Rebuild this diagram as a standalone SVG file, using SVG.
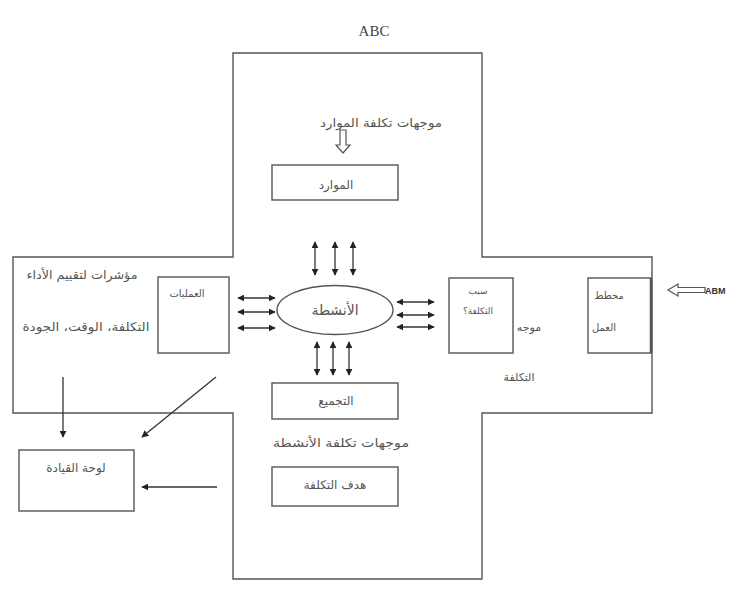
<svg xmlns="http://www.w3.org/2000/svg" width="731" height="590" viewBox="0 0 731 590">
<style>
.ln{fill:none;stroke:#555;stroke-width:1.4}
.bx{fill:#fff;stroke:#555;stroke-width:1.4}
.ar{fill:none;stroke:#333;stroke-width:1.3}
.t{font-family:"DejaVu Sans",sans-serif;fill:#555;text-anchor:middle}
.hol{fill:#fff;stroke:#555;stroke-width:1.2}
</style>
<defs>
<marker id="ah" viewBox="0 0 10 10" refX="9" refY="5" markerWidth="7" markerHeight="7" markerUnits="userSpaceOnUse" orient="auto-start-reverse">
<path d="M0,0 L10,5 L0,10 Z" fill="#222"/>
</marker>
</defs>
<rect width="731" height="590" fill="#fff"/>
<text x="374" y="36" font-family="Liberation Serif, serif" font-size="15" fill="#444" text-anchor="middle">ABC</text>
<g id="cross">
<path class="ln" d="M233,53 H482 V257 H652 V413 H482 V579 H233 V413 H13 V257 H233 Z"/>
</g>
<g id="n-drivers-res">
<text class="t" x="381" y="127" font-size="12" textLength="122" lengthAdjust="spacingAndGlyphs">موجهات تكلفة الموارد</text>
</g>
<g id="n-resources">
<rect class="bx" x="272" y="165" width="126" height="35"/>
<text class="t" x="336" y="189" font-size="12">الموارد</text>
</g>
<g id="n-activities">
<ellipse class="bx" cx="335" cy="310" rx="58" ry="24.5"/>
<text class="t" x="335" y="315" font-size="14">الأنشطة</text>
</g>
<g id="n-aggregation">
<rect class="bx" x="272" y="383" width="126" height="36"/>
<text class="t" x="336" y="405" font-size="12">التجميع</text>
</g>
<g id="n-drivers-act">
<text class="t" x="341" y="447" font-size="12" textLength="136" lengthAdjust="spacingAndGlyphs">موجهات تكلفة الأنشطة</text>
</g>
<g id="n-cost-object">
<rect class="bx" x="272" y="467" width="126" height="39"/>
<text class="t" x="335" y="489" font-size="12">هدف التكلفة</text>
</g>
<g id="n-processes">
<rect class="bx" x="158" y="277" width="71" height="76"/>
<text class="t" x="187" y="297" font-size="10">العمليات</text>
</g>
<g id="n-indicators">
<text class="t" x="82" y="279" font-size="12" textLength="111" lengthAdjust="spacingAndGlyphs">مؤشرات لتقييم الأداء</text>
<text class="t" x="86" y="331" font-size="12" textLength="127" lengthAdjust="spacingAndGlyphs">التكلفة، الوقت، الجودة</text>
</g>
<g id="n-dashboard">
<rect class="bx" x="19" y="450" width="115" height="61"/>
<text class="t" x="76" y="472" font-size="12">لوحة القيادة</text>
</g>
<g id="n-cost-cause">
<rect class="bx" x="449" y="278" width="64" height="75"/>
<text class="t" x="478" y="294" font-size="9">سبب</text>
<text class="t" x="478" y="314" font-size="9">التكلفة؟</text>
</g>
<g id="n-cost-driver">
<text class="t" x="529" y="331" font-size="11">موجه</text>
<text class="t" x="519" y="381" font-size="11">التكلفة</text>
</g>
<g id="n-workplan">
<rect class="bx" x="588" y="278" width="63" height="75"/>
<line x1="651" y1="278" x2="651" y2="353" stroke="#555" stroke-width="2.5"/>
<text class="t" x="609" y="299" font-size="10">مخطط</text>
<text class="t" x="604" y="331" font-size="10">العمل</text>
</g>
<g id="n-abm">
<path class="hol" d="M668,290 L678,284 L678,287.5 L705,287.5 L705,292.5 L678,292.5 L678,296 Z"/>
<text x="705" y="294" font-family="Liberation Sans, sans-serif" font-size="9" font-weight="bold" fill="#333">ABM</text>
</g>
<g id="connectors">
<path class="hol" d="M340,130 L346,130 L346,145 L350,145 L343,153 L336,145 L340,145 Z"/>
<line class="ar" x1="315" y1="242" x2="315" y2="275" marker-start="url(#ah)" marker-end="url(#ah)"/>
<line class="ar" x1="335" y1="242" x2="335" y2="275" marker-start="url(#ah)" marker-end="url(#ah)"/>
<line class="ar" x1="353" y1="242" x2="353" y2="275" marker-start="url(#ah)" marker-end="url(#ah)"/>
<line class="ar" x1="317" y1="342" x2="317" y2="375" marker-start="url(#ah)" marker-end="url(#ah)"/>
<line class="ar" x1="333" y1="342" x2="333" y2="375" marker-start="url(#ah)" marker-end="url(#ah)"/>
<line class="ar" x1="349" y1="342" x2="349" y2="375" marker-start="url(#ah)" marker-end="url(#ah)"/>
<line class="ar" x1="238" y1="298" x2="275" y2="298" marker-start="url(#ah)" marker-end="url(#ah)"/>
<line class="ar" x1="238" y1="312" x2="275" y2="312" marker-start="url(#ah)" marker-end="url(#ah)"/>
<line class="ar" x1="238" y1="328" x2="275" y2="328" marker-start="url(#ah)" marker-end="url(#ah)"/>
<line class="ar" x1="397" y1="302" x2="434" y2="302" marker-start="url(#ah)" marker-end="url(#ah)"/>
<line class="ar" x1="397" y1="315" x2="434" y2="315" marker-start="url(#ah)" marker-end="url(#ah)"/>
<line class="ar" x1="397" y1="327" x2="434" y2="327" marker-start="url(#ah)" marker-end="url(#ah)"/>
<line class="ar" x1="63" y1="377" x2="63" y2="437" marker-end="url(#ah)"/>
<line class="ar" x1="216" y1="377" x2="142" y2="437" marker-end="url(#ah)"/>
<line class="ar" x1="217" y1="487" x2="142" y2="487" marker-end="url(#ah)"/>
</g>
</svg>
